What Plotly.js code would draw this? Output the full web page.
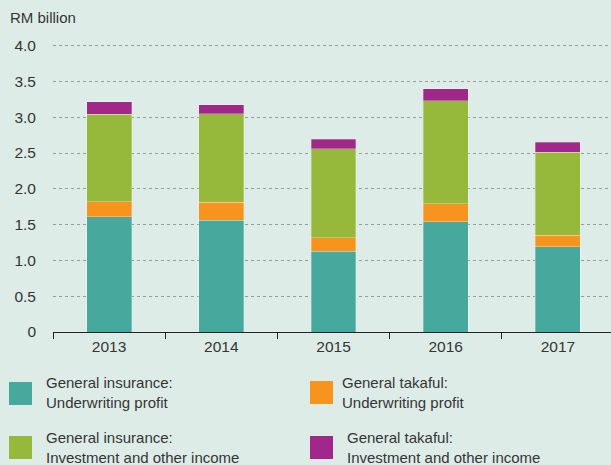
<!DOCTYPE html>
<html>
<head>
<meta charset="utf-8">
<script src="https://cdn.plot.ly/plotly-3.0.1.min.js"></script>
<style>
html,body{margin:0;padding:0;background:#deece8;}
#chart{width:611px;height:465px;}
</style>
</head>
<body>
<div id="chart"></div>
<script>
// ---- data ----
const years = ['2013', '2014', '2015', '2016', '2017'];
const giUnderwriting = [1.61, 1.56, 1.13, 1.54, 1.19];
const gtUnderwriting = [0.21, 0.25, 0.19, 0.255, 0.16];
const giInvestment = [1.22, 1.24, 1.24, 1.435, 1.16];
const gtInvestment = [0.18, 0.125, 0.13, 0.17, 0.14];
const seriesNames = [
  'General insurance:<br>Underwriting profit',
  'General takaful:<br>Underwriting profit',
  'General insurance:<br>Investment and other income',
  'General takaful:<br>Investment and other income'
];
const yTickVals = [0, 0.5, 1, 1.5, 2, 2.5, 3, 3.5, 4];
const yTickText = ['0', '0.5', '1.0', '1.5', '2.0', '2.5', '3.0', '3.5', '4.0'];
const unitLabel = 'RM billion';

// ---- style ----
const colors = ['#47a89e', '#f7941e', '#96b83b', '#a1288a'];
const W = 611, H = 465, ML = 53, MR = 0, MT = 42, MB = 133;
const PW = W - ML - MR, PH = H - MT - MB;
const px = x => (x - ML) / PW;
const py = y => (H - MB - y) / PH;
const font = 'Liberation Sans, Arial, Helvetica, sans-serif';
const textColor = '#353535';
const yMax = PH / ((H - MB - 45.7) / 4);

const seriesValues = [giUnderwriting, gtUnderwriting, giInvestment, gtInvestment];
const traces = seriesValues.map((vals, i) => ({
  type: 'bar',
  x: years,
  y: vals,
  name: seriesNames[i],
  width: 0.4,
  marker: {color: colors[i], line: {color: 'rgba(255,255,255,0.35)', width: 0.8}},
  hoverinfo: 'skip'
}));

// custom legend layout (positions in pixels)
const legendPos = [
  {sx: 9, sy: 382, tx: 44, ty: 392},
  {sx: 310, sy: 381, tx: 340, ty: 392},
  {sx: 9, sy: 436, tx: 44, ty: 447},
  {sx: 310, sy: 436, tx: 345, ty: 447}
];
const shapes = legendPos.map((p, i) => ({
  type: 'rect', xref: 'paper', yref: 'paper',
  x0: px(p.sx), x1: px(p.sx + 23), y0: py(p.sy), y1: py(p.sy + 23),
  fillcolor: colors[i], line: {width: 0}
}));
const annotations = legendPos.map((p, i) => ({
  xref: 'paper', yref: 'paper', x: px(p.tx), y: py(p.ty),
  xanchor: 'left', yanchor: 'middle', align: 'left', showarrow: false,
  text: seriesNames[i], font: {family: font, size: 15, color: textColor}
}));
annotations.push({
  xref: 'paper', yref: 'paper', x: px(8), y: py(17.5),
  xanchor: 'left', yanchor: 'middle', showarrow: false,
  text: unitLabel, font: {family: font, size: 15, color: textColor}
});

const layout = {
  width: W, height: H,
  margin: {l: ML, r: MR, t: MT, b: MB, pad: 0},
  paper_bgcolor: '#deece8',
  plot_bgcolor: '#deece8',
  barmode: 'stack',
  showlegend: false,
  font: {family: font, color: textColor},
  xaxis: {
    type: 'category',
    range: [-0.5, -0.5 + PW / 112.2],
    tickson: 'boundaries',
    ticks: 'outside', ticklen: 6, tickcolor: '#222', tickwidth: 1,
    showline: true, linecolor: '#222', linewidth: 1,
    showgrid: false, zeroline: false,
    tickfont: {family: font, size: 15.5, color: textColor},
    fixedrange: true
  },
  yaxis: {
    range: [0, yMax],
    tickvals: yTickVals, ticktext: yTickText,
    showgrid: true, gridcolor: '#9a9a9a', gridwidth: 1, griddash: '3px,3px',
    zeroline: false, showline: false, ticks: '',
    ticklabelstandoff: 16,
    tickfont: {family: font, size: 15.5, color: textColor},
    fixedrange: true
  },
  shapes: shapes,
  annotations: annotations
};

Plotly.newPlot('chart', traces, layout, {displayModeBar: false, staticPlot: true});
</script>
</body>
</html>
